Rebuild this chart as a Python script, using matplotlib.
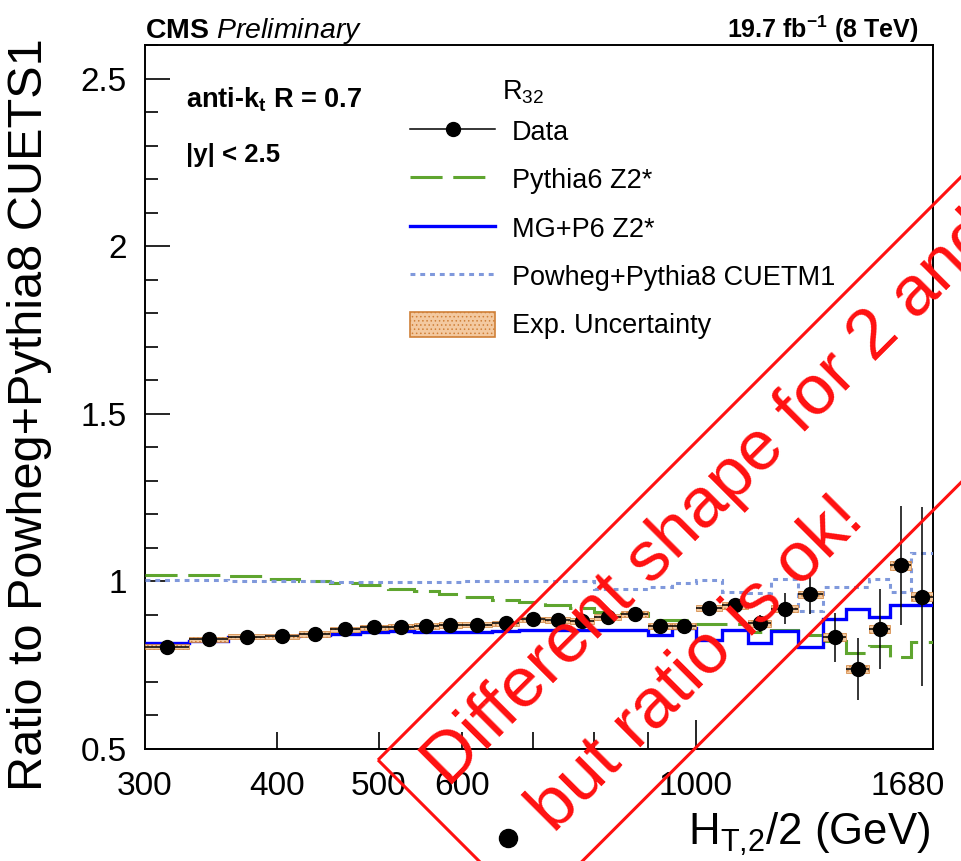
import numpy as np
import matplotlib
matplotlib.use('Agg')
import matplotlib.pyplot as plt
import matplotlib.transforms as mtransforms
from matplotlib.patches import Polygon, Patch
from matplotlib.lines import Line2D
from matplotlib.ticker import MultipleLocator, FixedLocator, NullFormatter, FuncFormatter

plt.rcParams['font.family'] = ['Liberation Sans', 'DejaVu Sans']
plt.rcParams['mathtext.fontset'] = 'custom'
plt.rcParams['mathtext.rm'] = 'Liberation Sans'
plt.rcParams['mathtext.it'] = 'Liberation Sans:italic'
plt.rcParams['mathtext.bf'] = 'Liberation Sans:bold'
plt.rcParams['hatch.linewidth'] = 0.6

# ---------------- data ----------------
bin_edges = [300, 330, 360, 390, 420, 450, 480, 510, 540, 570, 600, 640, 680, 720, 760,
             800, 850, 900, 950, 1000, 1060, 1120, 1180, 1250, 1320, 1390, 1460, 1530,
             1600, 1680]
data_ratio = [0.805, 0.827, 0.835, 0.836, 0.843, 0.857, 0.863, 0.865, 0.867, 0.870,
              0.871, 0.875, 0.887, 0.884, 0.881, 0.893, 0.904, 0.868, 0.867, 0.921,
              0.929, 0.875, 0.919, 0.961, 0.833, 0.738, 0.858, 1.048, 0.954]
stat_err = [0.002, 0.002, 0.002, 0.002, 0.002, 0.002, 0.002, 0.002, 0.003, 0.003,
            0.003, 0.003, 0.004, 0.005, 0.006, 0.007, 0.008, 0.009, 0.010, 0.012,
            0.018, 0.025, 0.045, 0.057, 0.073, 0.092, 0.119, 0.177, 0.267]
exp_unc = [0.008, 0.008, 0.008, 0.008, 0.008, 0.008, 0.008, 0.008, 0.008, 0.008,
           0.008, 0.008, 0.008, 0.009, 0.009, 0.009, 0.009, 0.009, 0.010, 0.010,
           0.010, 0.010, 0.011, 0.011, 0.012, 0.012, 0.012, 0.013, 0.013]
pythia6_z2 = [1.019, 1.019, 1.016, 1.007, 1.000, 0.996, 0.990, 0.978, 0.970, 0.962,
              0.954, 0.944, 0.939, 0.929, 0.922, 0.910, 0.905, 0.886, 0.884, 0.872,
              0.872, 0.850, 0.855, 0.840, 0.823, 0.787, 0.808, 0.775, 0.820]
mg_p6_z2 = [0.817, 0.822, 0.833, 0.838, 0.840, 0.843, 0.848, 0.852, 0.850, 0.850,
            0.850, 0.852, 0.855, 0.855, 0.856, 0.856, 0.855, 0.840, 0.860, 0.825,
            0.855, 0.815, 0.853, 0.803, 0.887, 0.919, 0.894, 0.931, 0.931]
powheg_cuetm1 = [1.003, 1.003, 1.002, 1.001, 1.000, 0.999, 0.998, 0.999, 0.998, 0.999,
                 1.000, 1.002, 1.002, 1.002, 1.002, 0.976, 0.976, 0.984, 0.994, 1.003,
                 0.969, 0.965, 1.006, 0.912, 0.984, 0.984, 1.006, 0.969, 1.085]

xtick_values = [300, 400, 500, 600, 1000, 1680]
ytick_values = [0.5, 1.0, 1.5, 2.0, 2.5]
legend_labels = ['Data', 'Pythia6 Z2*', 'MG+P6 Z2*', 'Powheg+Pythia8 CUETM1', 'Exp. Uncertainty']

# ---------------- figure ----------------
W, H = 961, 861
fig = plt.figure(figsize=(W / 100, H / 100), dpi=100)
pix = mtransforms.Affine2D().scale(1 / W, -1 / H).translate(0, 1) + fig.transFigure

ax = fig.add_axes([145 / W, 1 - 749 / H, (933 - 145) / W, (749 - 45) / H])
ax.set_xscale('log')
ax.set_xlim(300, 1680)
ax.set_ylim(0.5, 2.6)

edges = np.array(bin_edges, dtype=float)
centers = 0.5 * (edges[:-1] + edges[1:])
d = np.array(data_ratio)
eu = np.array(exp_unc)

green = '#5fa52f'
blue = '#0000ff'
lblue = '#8099dc'
orange_face = '#f3c9a0'
orange_edge = '#d08038'

ax.stairs(pythia6_z2, edges, baseline=None, color=green, lw=2.2, ls=(0, (10.5, 3.5)), zorder=3)
ax.stairs(powheg_cuetm1, edges, baseline=None, color=lblue, lw=2.2, ls=(0, (1.6, 1.6)), zorder=3)
ax.stairs(mg_p6_z2, edges, baseline=None, color=blue, lw=2.4, zorder=3)

ax.bar(edges[:-1], 2 * eu, bottom=d - eu, width=np.diff(edges), align='edge',
       facecolor=orange_face, edgecolor=orange_edge, hatch='....', lw=0.5, zorder=4)
ax.errorbar(centers, d, yerr=stat_err,
            xerr=[centers - edges[:-1], edges[1:] - centers],
            fmt='o', color='black', ms=10, elinewidth=1.1, capsize=0, zorder=5)

# ticks
for s in ax.spines.values():
    s.set_linewidth(1.4)
ax.yaxis.set_major_locator(FixedLocator(ytick_values))
ax.yaxis.set_minor_locator(MultipleLocator(0.1))
ax.yaxis.set_major_formatter(FuncFormatter(lambda v, p: '%g' % v))
ax.xaxis.set_major_locator(FixedLocator([1000]))
ax.xaxis.set_minor_locator(FixedLocator([400, 500, 600, 700, 800, 900]))
ax.xaxis.set_major_formatter(NullFormatter())
ax.xaxis.set_minor_formatter(NullFormatter())
ax.tick_params(which='both', direction='in', top=False, right=False, width=1.2)
ax.tick_params(axis='y', which='major', length=18, labelsize=24, pad=13)
ax.tick_params(axis='y', which='minor', length=9.5)
ax.tick_params(axis='x', which='major', length=21)
ax.tick_params(axis='x', which='minor', length=12)

xt = mtransforms.blended_transform_factory(ax.transData, ax.transAxes)
for v in xtick_values:
    if v == xtick_values[-1]:
        tr = mtransforms.offset_copy(xt, fig=fig, x=12, y=-22, units='dots')
        ax.text(v, 0, str(v), transform=tr, ha='right', va='top', fontsize=24)
    else:
        tr = mtransforms.offset_copy(xt, fig=fig, x=0, y=-22, units='dots')
        ax.text(v, 0, str(v), transform=tr, ha='center', va='top', fontsize=24)

# axis titles
fig.text(30, 415, 'Ratio to Powheg+Pythia8 CUETS1', transform=pix, rotation=90,
         ha='center', va='center', fontsize=35)
fig.text(930, 845, r'H$_{\mathregular{T{,}2}}$/2 (GeV)', transform=pix, ha='right',
         va='baseline', fontsize=31.5)

# header texts
fig.text(145, 38, r'$\mathbf{CMS}\ \mathit{Preliminary}$', transform=pix, ha='left',
         va='baseline', fontsize=20.5)
fig.text(918, 38, r'19.7 fb$^{\mathbf{-1}}$ (8 TeV)', transform=pix, ha='right',
         va='baseline', fontsize=18, fontweight='bold')
fig.text(186, 107, r'anti-k$_\mathbf{t}$ R = 0.7', transform=pix, ha='left',
         va='baseline', fontsize=19.5, fontweight='bold')
fig.text(186, 162, '|y| < 2.5', transform=pix, ha='left', va='baseline',
         fontsize=18.5, fontweight='bold')
fig.text(502, 100, r'R$_{\mathregular{32}}$', transform=pix, ha='left', va='baseline',
         fontsize=19.5)

# legend
handles = [
    Line2D([], [], color='black', marker='o', ms=10, lw=1.1),
    Line2D([], [], color=green, lw=2.2, ls=(0, (10.5, 3.5))),
    Line2D([], [], color=blue, lw=2.4),
    Line2D([], [], color=lblue, lw=2.2, ls=(0, (1.6, 1.6))),
    Patch(facecolor=orange_face, edgecolor=orange_edge, hatch='....', lw=1.2),
]
leg = ax.legend(handles, legend_labels, loc='upper left',
                bbox_to_anchor=(410 / W, 1 - 118 / H), bbox_transform=fig.transFigure,
                frameon=False, fontsize=19.5, handlelength=3.15, handletextpad=0.62,
                labelspacing=0.76, borderpad=0, borderaxespad=0, handleheight=1.05)

# red overlay annotation
A = np.array([378.0, 760.0])
eu_dir = np.array([1.0, -1.0]) / np.sqrt(2)
ev_dir = np.array([1.0, 1.0]) / np.sqrt(2)
width_v = 216.0
length_u = 1000.0
corners = [A, A + length_u * eu_dir, A + length_u * eu_dir + width_v * ev_dir, A + width_v * ev_dir]
fig.add_artist(Polygon(corners, closed=True, fill=False, edgecolor='#ff1010', lw=2.2,
                       transform=pix, zorder=10))
P1 = A + 30 * eu_dir + 70 * ev_dir
P2 = A + 72 * eu_dir + 176 * ev_dir
fig.text(P1[0], P1[1], 'Different shape for 2 and 3 jets', transform=pix, rotation=45,
         rotation_mode='anchor', ha='left', va='baseline', fontsize=51, color='#ff1010',
         zorder=10)
fig.text(P2[0], P2[1], 'but ratio is ok!', transform=pix, rotation=45,
         rotation_mode='anchor', ha='left', va='baseline', fontsize=51, color='#ff1010',
         zorder=10)
fig.add_artist(Line2D([508], [838], marker='o', ms=13, color='black', lw=0,
                      transform=pix, zorder=10))

fig.savefig('out.png', dpi=100)
